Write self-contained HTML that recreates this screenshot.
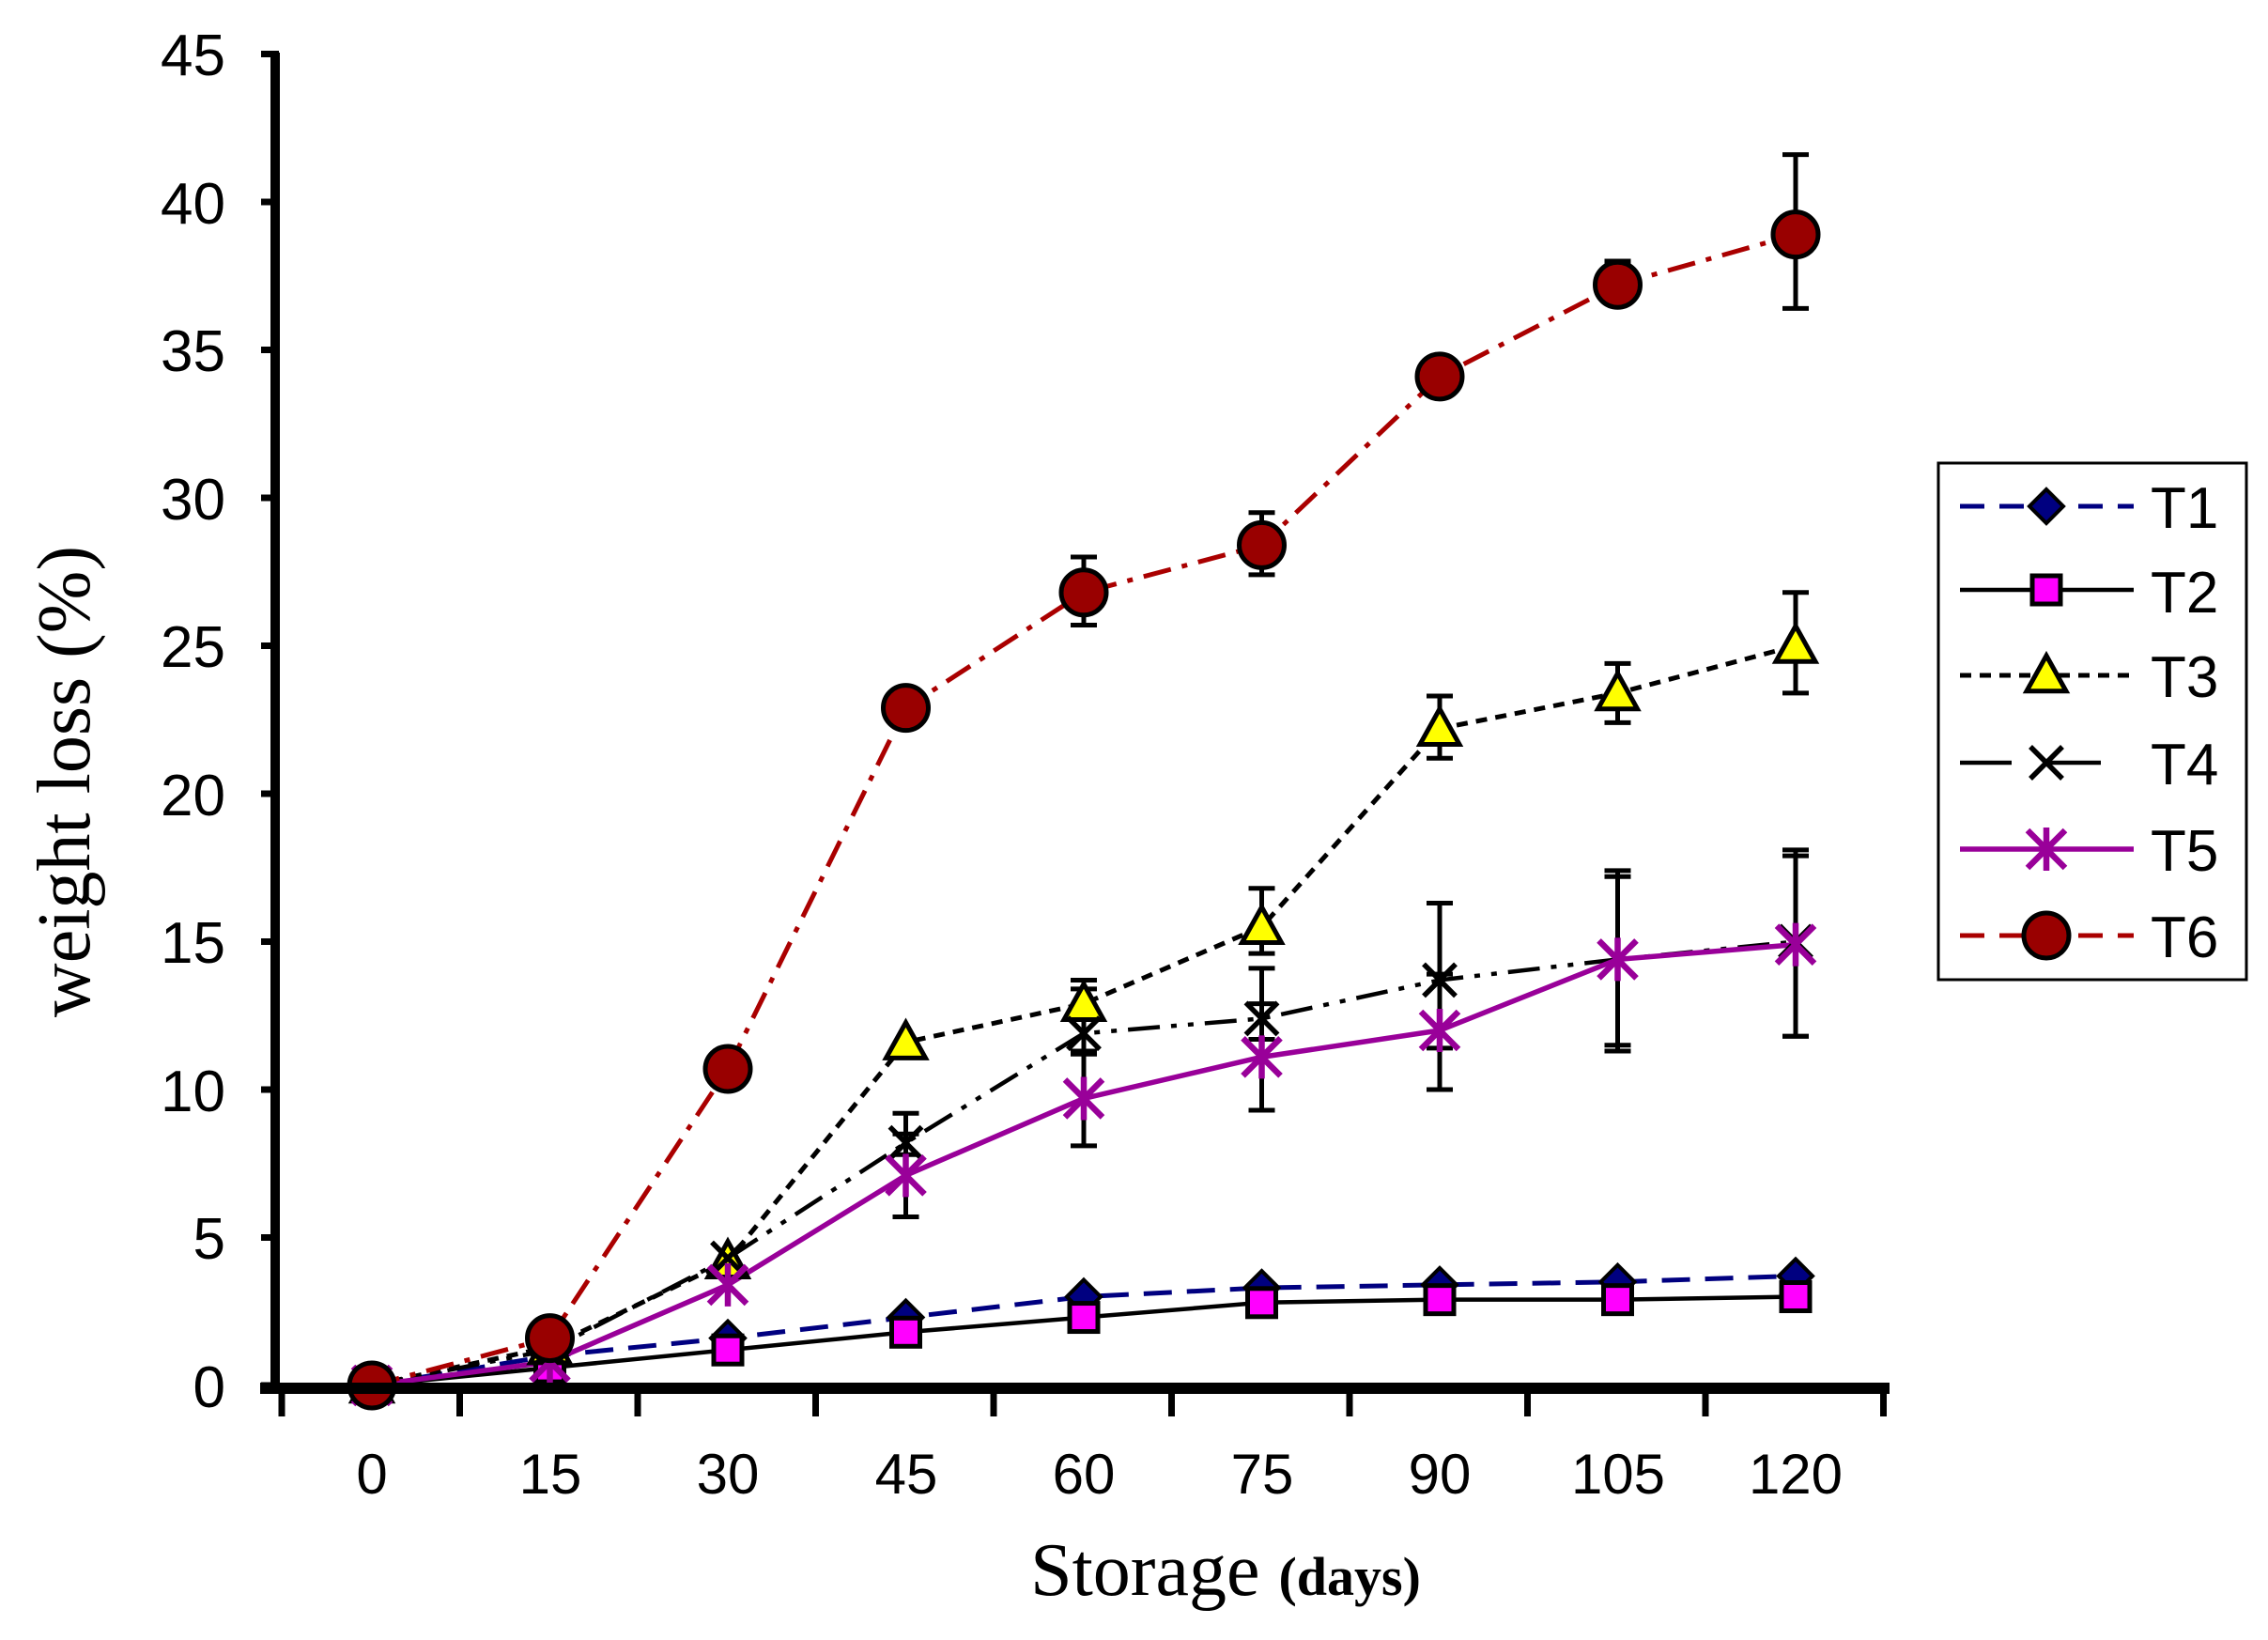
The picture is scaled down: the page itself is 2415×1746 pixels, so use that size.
<!DOCTYPE html>
<html><head><meta charset="utf-8"><style>
html,body{margin:0;padding:0;background:#fff;}
svg{display:block;}
</style></head><body>
<svg id="s" width="2415" height="1746" viewBox="0 0 2415 1746" xmlns="http://www.w3.org/2000/svg">
<rect width="2415" height="1746" fill="#fff"/>
<g id="plot"></g>
<line x1="293" y1="56" x2="293" y2="1482" stroke="#000" stroke-width="10"/>
<line x1="277" y1="1478" x2="2012" y2="1478" stroke="#000" stroke-width="12"/>
<g id="ticks" stroke="#000" stroke-width="7"></g>
<g font-family="Liberation Sans, sans-serif" font-size="62" fill="#000" text-anchor="end">
<text x="240" y="80">45</text><text x="240" y="238">40</text><text x="240" y="395">35</text>
<text x="240" y="553">30</text><text x="240" y="710">25</text><text x="240" y="868">20</text>
<text x="240" y="1025">15</text><text x="240" y="1183">10</text><text x="240" y="1340">5</text>
<text x="240" y="1498">0</text>
</g>
<g font-family="Liberation Sans, sans-serif" font-size="60" fill="#000" text-anchor="middle">
<text x="396" y="1590">0</text><text x="586" y="1590">15</text><text x="775" y="1590">30</text>
<text x="965" y="1590">45</text><text x="1154" y="1590">60</text><text x="1344" y="1590">75</text>
<text x="1533" y="1590">90</text><text x="1723" y="1590">105</text><text x="1912" y="1590">120</text>
</g>
<text x="1305" y="1698" text-anchor="middle" font-family="Liberation Serif, serif" font-size="80">Storage <tspan font-weight="bold" font-size="58">(days)</tspan></text>
<text transform="translate(95,832) rotate(-90)" text-anchor="middle" font-family="Liberation Serif, serif" font-size="80">weight loss  (%)</text>
<rect x="2064" y="493" width="328" height="550" fill="#fff" stroke="#000" stroke-width="3"/>
<g id="leg"></g>
<g font-family="Liberation Sans, sans-serif" font-size="62" fill="#000">
<text x="2290" y="562">T1</text><text x="2290" y="652">T2</text><text x="2290" y="742">T3</text>
<text x="2290" y="835">T4</text><text x="2290" y="927">T5</text><text x="2290" y="1019">T6</text>
</g>
</svg>
<script>
var NS="http://www.w3.org/2000/svg";
function el(p,t,a){var e=document.createElementNS(NS,t);for(var k in a)e.setAttribute(k,a[k]);p.appendChild(e);return e;}
var tk=document.getElementById('ticks');
for(var i=0;i<10;i++){var x=300+189.5*i;el(tk,'line',{x1:x,y1:1478,x2:x,y2:1508});}
for(var v=0;v<=45;v+=5){var y=1475-v*31.5;el(tk,'line',{x1:278,y1:y,x2:297,y2:y});}
function X(i){return 396+189.5*i;} function Y(v){return 1475-v*31.5;}
var S=[
{d:[0,1,1.6,2.3,3,3.3,3.4,3.5,3.7],c:'#000080',da:'30,16',w:5,m:'dia',f:'#000080'},
{d:[0,0.6,1.2,1.8,2.3,2.8,2.9,2.9,3],c:'#000',da:'',w:4.5,m:'sq',f:'#ff00ff'},
{d:[0,1.3,4.2,11.6,12.9,15.5,22.2,23.4,25],c:'#000',da:'12,9',w:5,m:'tri',f:'#ffff00',
 e:{4:[12.4,13.7],5:[14.6,16.8],6:[21.2,23.3],7:[22.4,24.4],8:[23.4,26.8]}},
{d:[0,1.2,4.3,8.2,11.9,12.4,13.7,14.4,15],c:'#000',da:'34,12,6,12,6,12',w:4.5,m:'x',f:'none',
 e:{3:[7.8,9.2],4:[11.3,13.4],5:[11.7,14.1],6:[11.4,16.3],7:[11.3,17.4],8:[11.8,18.1]}},
{d:[0,0.8,3.4,7.1,9.7,11.1,12,14.4,14.9],c:'#990099',da:'',w:5.5,m:'star',f:'#990099',
 e:{3:[5.7,8.5],4:[8.1,11.2],5:[9.3,12.9],6:[10,13.9],7:[11.5,17.2],8:[11.8,17.9]}},
{d:[0,1.6,10.7,22.9,26.8,28.4,34.1,37.2,38.9],c:'#aa0000',da:'30,12,6,12',w:5,m:'circ',f:'#990000',
 e:{4:[25.7,28],5:[27.4,29.5],6:[33.7,34.5],7:[36.7,38],8:[36.4,41.6]}}
];
function marker(g,m,x,y,f,c,sc){sc=sc||1;
 if(m=='dia'){var r=18*sc;el(g,'polygon',{points:[x,y-r,x+r,y,x,y+r,x-r,y].join(','),fill:f,stroke:'#000','stroke-width':4});}
 if(m=='sq'){var r=15*sc;el(g,'rect',{x:x-r,y:y-r,width:2*r,height:2*r,fill:f,stroke:'#000','stroke-width':5});}
 if(m=='tri'){var r=21*sc;el(g,'polygon',{points:[x,y-r,x+r,y+r*0.8,x-r,y+r*0.8].join(','),fill:f,stroke:'#000','stroke-width':5});}
 if(m=='x'){var r=17*sc;el(g,'path',{d:'M'+(x-r)+' '+(y-r)+'L'+(x+r)+' '+(y+r)+'M'+(x+r)+' '+(y-r)+'L'+(x-r)+' '+(y+r),stroke:'#000','stroke-width':5.5});}
 if(m=='star'){var r=20*sc;el(g,'path',{d:'M'+(x-r)+' '+(y-r)+'L'+(x+r)+' '+(y+r)+'M'+(x+r)+' '+(y-r)+'L'+(x-r)+' '+(y+r)+'M'+x+' '+(y-r*1.15)+'L'+x+' '+(y+r*1.15),stroke:c,'stroke-width':6.5});}
 if(m=='circ'){var r=24*sc;el(g,'ellipse',{cx:x,cy:y,rx:r,ry:r,fill:f,stroke:'#000','stroke-width':5});}
}
var P=document.getElementById('plot');
S.forEach(function(s){
 var pts=s.d.map(function(v,i){return X(i)+','+Y(v);}).join(' ');
 var a={points:pts,fill:'none',stroke:s.c,'stroke-width':s.w};if(s.da)a['stroke-dasharray']=s.da;
 el(P,'polyline',a);
});
S.forEach(function(s){
 if(s.e)for(var k in s.e){var x=X(+k),lo=Y(s.e[k][0]),hi=Y(s.e[k][1]);
  el(P,'path',{d:'M'+x+' '+lo+'L'+x+' '+hi+'M'+(x-14)+' '+lo+'L'+(x+14)+' '+lo+'M'+(x-14)+' '+hi+'L'+(x+14)+' '+hi,stroke:'#000','stroke-width':5,fill:'none'});}
});
S.forEach(function(s){s.d.forEach(function(v,i){marker(P,s.m,X(i),Y(v),s.f,s.c);});});
var L=document.getElementById('leg');var ly=[539,628,719,812,904,996];
var lda=['26,16','','12,9','55,40','','26,16'];
S.forEach(function(s,i){var a={x1:2087,y1:ly[i],x2:2272,y2:ly[i],stroke:s.c,'stroke-width':s.w};if(lda[i])a['stroke-dasharray']=lda[i];
 el(L,'line',a);marker(L,s.m,2179,ly[i],s.f,s.c);});
</script>
</body></html>
